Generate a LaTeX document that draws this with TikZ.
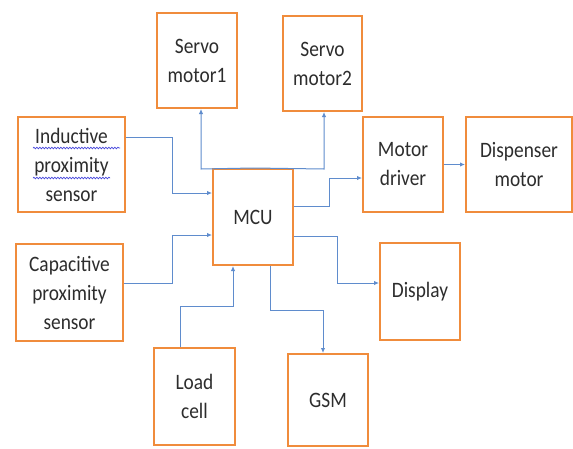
\documentclass[tikz,border=0pt]{standalone}
\usepackage{fontspec}
\setmainfont[FakeStretch=0.88]{Carlito}
\usetikzlibrary{arrows.meta,decorations.pathmorphing}
\definecolor{boxorange}{RGB}{240,140,60}
\definecolor{linkblue}{RGB}{95,140,205}
\definecolor{textgray}{RGB}{45,45,45}
\definecolor{spellblue}{RGB}{70,70,220}
\begin{document}
\begin{tikzpicture}[x=1pt,y=-1pt,
  blk/.style={draw=boxorange,line width=2pt,fill=white,inner sep=0pt,align=center,
    text=textgray,font=\fontsize{22}{29}\selectfont},
  link/.style={draw=linkblue,line width=1pt,-{Latex[length=5pt,width=4.5pt]}},
  wavy/.style={draw=spellblue,line width=0.7pt,decorate,decoration={snake,amplitude=0.8pt,segment length=3pt}}]
\useasboundingbox (0,0) rectangle (573,448);
\fill[white] (0,0) rectangle (573,448);
% blocks
\node[blk,minimum width=80pt,minimum height=95pt] (s1) at (197,60.5) {Servo\\motor1};
\node[blk,minimum width=79pt,minimum height=95pt] (s2) at (322.5,63.5) {Servo\\motor2};
\node[blk,minimum width=107pt,minimum height=95pt] (ind) at (71.5,164.5) {Inductive\\proximity\\sensor};
\node[blk,minimum width=80pt,minimum height=96pt] (mcu) at (253,217) {MCU};
\node[blk,minimum width=80pt,minimum height=95pt] (md) at (403,164.5) {Motor\\driver};
\node[blk,minimum width=106pt,minimum height=95pt] (dm) at (519,164.5) {Dispenser\\motor};
\node[blk,minimum width=107pt,minimum height=97pt] (cap) at (69.5,292.5) {Capacitive\\proximity\\sensor};
\node[blk,minimum width=81pt,minimum height=97pt] (load) at (194.5,396.5) {Load\\cell};
\node[blk,minimum width=80pt,minimum height=97pt] (disp) at (420,291.5) {Display};
\node[blk,minimum width=80pt,minimum height=92pt] (gsm) at (328,400) {GSM};
% spell-check underlines
\coordinate (u1a) at (33,148); \coordinate (u1b) at (120,148);
\coordinate (u2a) at (33,178); \coordinate (u2b) at (110,178);
\draw[wavy] (u1a) -- (u1b);
\draw[wavy] (u2a) -- (u2b);
% bend points
\coordinate (a1) at (172,137); \coordinate (a2) at (172,193);
\coordinate (c1) at (172,283); \coordinate (c2) at (172,235);
\coordinate (l1) at (180,306); \coordinate (l2) at (233,306);
\coordinate (sv1) at (201,169); \coordinate (sv2) at (324,169);
\coordinate (m1) at (329,206); \coordinate (m2) at (329,178);
\coordinate (d1) at (337,236); \coordinate (d2) at (337,283);
\coordinate (g1) at (270,310); \coordinate (g2) at (323,310);
% connectors
\draw[link] (ind.east |- a1) -- (a1) -- (a2) -- (mcu.west |- a2);
\draw[link] (cap.east |- c1) -- (c1) -- (c2) -- (mcu.west |- c2);
\draw[link] (load.north -| l1) -- (l1) -- (l2) -- (mcu.south -| l2);
\draw[link] (mcu.north) -- (sv1) -- (s1.south -| sv1);
\draw[link] (mcu.north) -- (sv2) -- (s2.south -| sv2);
\draw[link] (mcu.east |- m1) -- (m1) -- (m2) -- (md.west |- m2);
\draw[link] (md.east) -- (dm.west);
\draw[link] (mcu.east |- d1) -- (d1) -- (d2) -- (disp.west |- d2);
\draw[link] (mcu.south -| g1) -- (g1) -- (g2) -- (gsm.north -| g2);
\end{tikzpicture}
\end{document}
